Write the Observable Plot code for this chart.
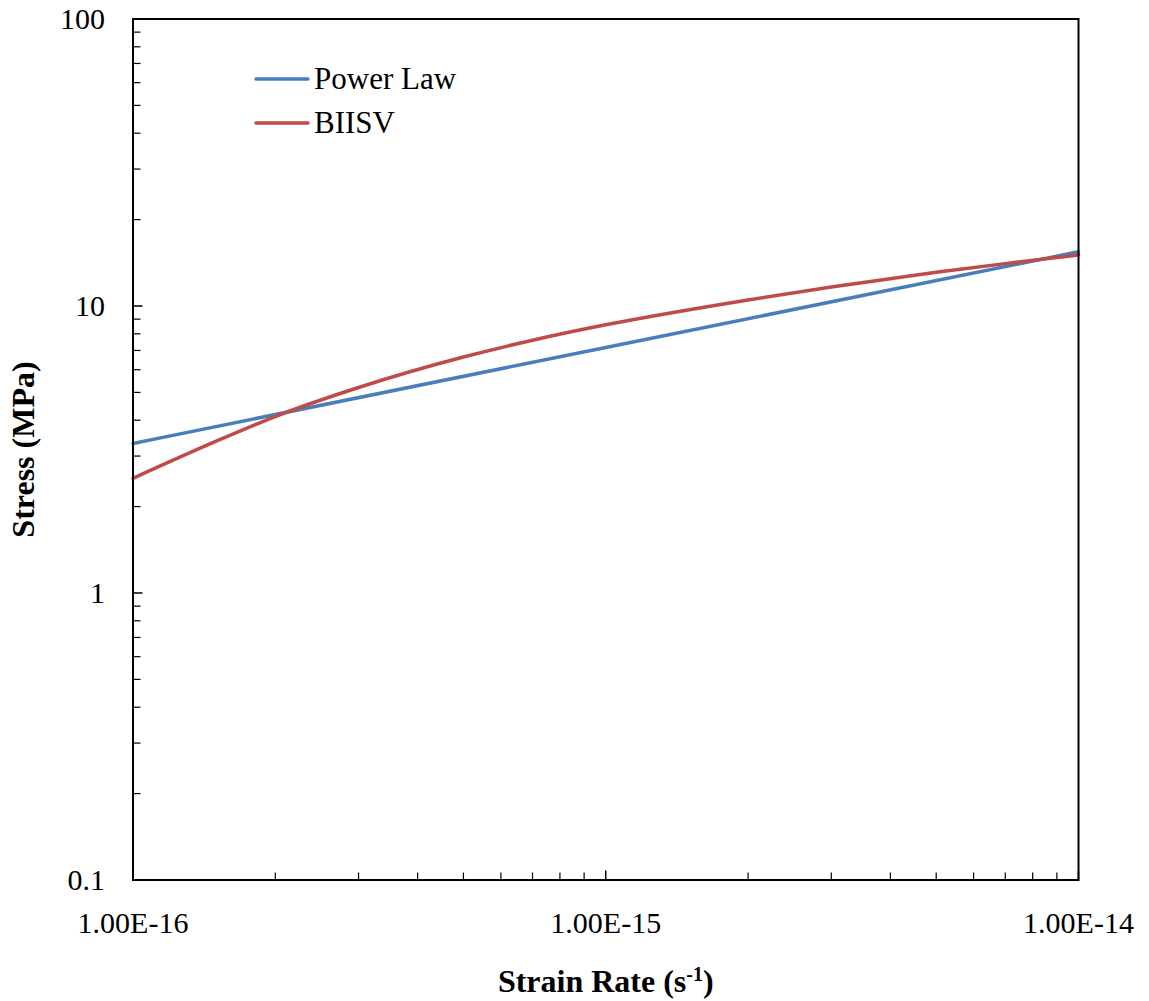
<!DOCTYPE html>
<html><head><meta charset="utf-8">
<script src="https://cdn.jsdelivr.net/npm/d3@7"></script>
<script src="https://cdn.jsdelivr.net/npm/@observablehq/plot@0.6"></script>
<style>
body{margin:0;background:#fff;}
#wrap{position:relative;width:1149px;height:1001px;font-family:"Liberation Serif","Times New Roman",serif;}
.leg{position:absolute;left:254px;height:40px;display:flex;align-items:center;font-size:31px;color:#000;white-space:nowrap;}
.leg svg{margin-right:4px;}
</style></head><body><div id="wrap"></div>
<script>
// Series data
const strainRatePower = [1e-16, 1e-15, 1e-14];
const stressPower = [3.32, 7.17, 15.45];
const strainRateBIISV = [1e-16, 1.5e-16, 2e-16, 3e-16, 5e-16, 7e-16, 1e-15, 2e-15, 3e-15, 5e-15, 7e-15, 1e-14];
const stressBIISV = [2.51, 3.38, 4.12, 5.2, 6.64, 7.6, 8.6, 10.5, 11.65, 13.1, 14.05, 15.05];
const seriesNames = ["Power Law", "BIISV"];
const seriesColors = ["#4A7EBB", "#BE4B48"];
// Axis ticks and labels
const xMajorTicks = [1e-16, 1e-15, 1e-14];
const xTickLabels = ["1.00E-16", "1.00E-15", "1.00E-14"];
const yMajorTicks = [0.1, 1, 10, 100];
const yTickLabels = ["0.1", "1", "10", "100"];
const minorMultipliers = [2, 3, 4, 5, 6, 7, 8, 9];
const xTitle = "Strain Rate (s";
const xTitleSup = "-1";
const yTitle = "Stress (MPa)";

const xMinor = [1e-16, 1e-15].flatMap(b => minorMultipliers.map(m => m * b));
const yMinor = [0.1, 1, 10].flatMap(b => minorMultipliers.map(m => m * b));

const powerData = strainRatePower.map((x, i) => ({x, y: stressPower[i]}));
const biisvData = strainRateBIISV.map((x, i) => ({x, y: stressBIISV[i]}));

const font = '"Liberation Serif","Times New Roman",serif';

const chart = Plot.plot({
  width: 1149, height: 1001,
  marginLeft: 132.5, marginRight: 71, marginTop: 18.5, marginBottom: 121.5,
  style: {fontFamily: font, background: "white", color: "black", overflow: "visible"},
  x: {type: "log", domain: [1e-16, 1e-14]},
  y: {type: "log", domain: [0.1, 100]},
  marks: [
    Plot.line(powerData, {x: "x", y: "y", stroke: seriesColors[0], strokeWidth: 3.5, curve: "monotone-x"}),
    Plot.line(biisvData, {x: "x", y: "y", stroke: seriesColors[1], strokeWidth: 3.5, curve: "monotone-x"}),
    Plot.frame({stroke: "black", strokeWidth: 2}),
    Plot.axisX({ticks: xMajorTicks, tickSize: -9, fill: "none", strokeWidth: 1.5, label: null}),
    Plot.axisX({ticks: xMinor, tickSize: -7, fill: "none", strokeWidth: 1.2, label: null}),
    Plot.axisY({ticks: yMajorTicks, tickSize: -10, fill: "none", strokeWidth: 1.5, label: null}),
    Plot.axisY({ticks: yMinor, tickSize: -8, fill: "none", strokeWidth: 1.2, label: null}),
    Plot.axisX({ticks: xMajorTicks, tickSize: 0, tickPadding: 32, fontSize: 30,
      tickFormat: d => xTickLabels[xMajorTicks.indexOf(d)],
      label: xTitle + xTitleSup + ")", labelAnchor: "center", labelOffset: 112, labelArrow: "none"}),
    Plot.axisY({ticks: yMajorTicks, tickSize: 0, tickPadding: 28, fontSize: 30,
      tickFormat: d => yTickLabels[yMajorTicks.indexOf(d)],
      label: yTitle, labelAnchor: "center", labelOffset: 122, labelArrow: "none"})
  ]
});
document.getElementById("wrap").appendChild(chart);

// Style axis titles (bold, superscript)
const svg = d3.select(chart);
svg.selectAll('[aria-label="x-axis label"] text').each(function() {
  const t = d3.select(this);
  t.text(null).attr("font-weight", "bold").attr("font-size", 32);
  t.append("tspan").text(xTitle);
  t.append("tspan").text(xTitleSup).attr("font-size", 20).attr("dy", "-0.55em");
  t.append("tspan").text(")").attr("dy", "0.35em");
});
svg.selectAll('[aria-label="y-axis label"] text').attr("font-weight", "bold").attr("font-size", 32);

// Legend
const wrap = document.getElementById("wrap");
const legendTops = [59, 103];
seriesNames.forEach((name, i) => {
  const d = document.createElement("div");
  d.className = "leg";
  d.style.top = legendTops[i] + "px";
  d.innerHTML = `<svg width="56" height="8"><line x1="2" y1="4" x2="54" y2="4" stroke="${seriesColors[i]}" stroke-width="3.5" stroke-linecap="round"/></svg><span>${name}</span>`;
  wrap.appendChild(d);
});
</script>
</body></html>
